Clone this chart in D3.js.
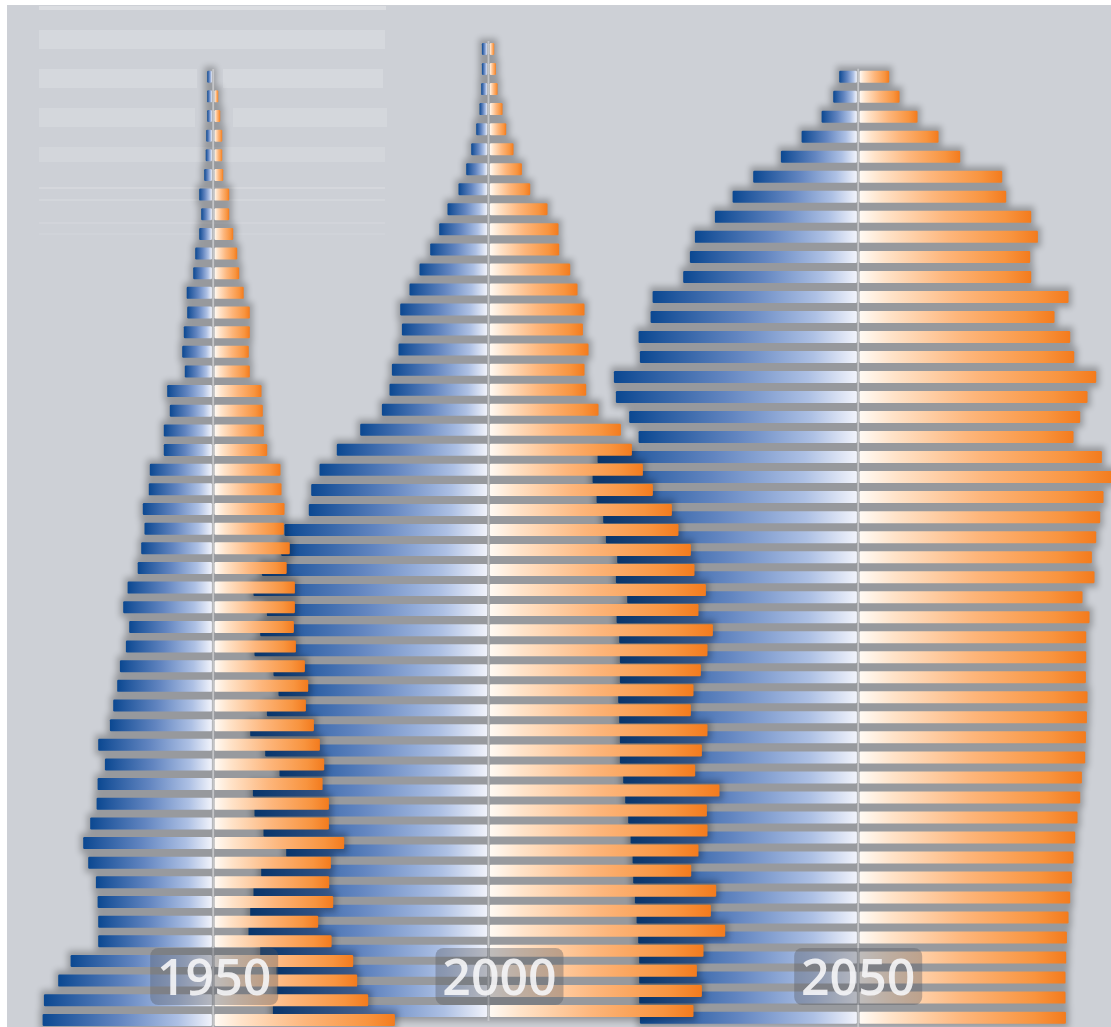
<!DOCTYPE html>
<html><head><meta charset="utf-8">
<script src="https://cdn.jsdelivr.net/npm/d3@7/dist/d3.min.js"></script>
<style>html,body{margin:0;padding:0;background:#fff;}svg{display:block;}</style>
</head><body>
<svg id="chart" width="1111" height="1027"></svg>
<script>
// ---------- DATA (rows listed from oldest (top) to youngest (bottom)) ----------
const years = ["1950", "2000", "2050"];

const male1950 = [6,6,6,7,7.5,9,14,12,14,18,20,26.5,26,29.4,31,28.4,46,43.4,49.4,49.4,63.4,64.4,70.4,68.7,72,75.5,85.6,90,84,87.3,93.3,96,100,103.3,115,108.3,115.6,116.6,123,130,125,117.3,115.6,115,115,142.6,155,169.3,170.6];
const female1950 = [0,5,7,9,9,10,16,16,20,24,26,30.5,36.6,36.6,35.6,36.6,48.3,49.6,50.6,54,67.3,68.3,71.3,70.6,76.6,73.5,81.7,81.7,80.7,82.7,91.7,95,92.7,100.7,106.7,111,109.4,115.7,115.7,131,117.7,116,120,105,118.4,140,144,155,181.7];

const male2000 = [6.6,6.6,7.3,9,12.3,17.3,22.3,30,41,49.3,58.3,69,79,88.3,86.6,90,96.6,99,106.6,128.3,151.7,169,177.3,179.7,204,207.3,226.6,235,221.6,228.3,234,215,210,221.6,238.3,223.3,209,235.6,234,225,202.3,227.3,235,238.3,240,228.3,212,211.6,215.6];
const female2000 = [5.7,7.4,9,14,17.7,25,33.4,41.7,59,70,70.7,81.7,89,96,94.4,100,96,97.7,110,132.4,143.4,154.4,164.4,183.4,190,202.4,206,217.4,210,224.4,219,212.4,205,202.4,219,213.4,206.7,231,218.4,219,210,202.7,227.7,222.4,236.7,215,208.4,213.4,205];

const male2050 = [19,25,36.6,56.6,77.3,105,125.6,143.3,163.3,168.3,175,205.6,207.6,219.6,218.3,244.3,242.3,229,219.6,260.6,265.6,261.6,255,252.3,241,242.3,231,241.6,239,238.3,238.3,240,239,238.3,238.3,235,233,230,227.6,225.6,225,223.3,221.6,220,219,219,219,218.3];
const female2050 = [31,41.3,59.3,80.3,102,144,148,173,179.7,172,173,210.3,196.3,212,216,238,229.3,222,215.3,243.7,256,245.3,242,238,233.7,236.3,224.3,231.3,228,228,227.7,229.3,228.7,227.7,227,223.7,222,219.3,217,215.3,213.7,212,210.3,208.7,208,207.3,207.3,207.7];

const seriesByYear = {
  "1950": {male: male1950, female: female1950},
  "2000": {male: male2000, female: female2000},
  "2050": {male: male2050, female: female2050}
};

// ---------- LAYOUT ----------
const W = 1111, H = 1027;
const layout = {
  "1950": {cx: 213.2, y0: 76.7, pitch: 19.65, labelDx: 1},
  "2000": {cx: 488.5, y0: 49.0, pitch: 20.04, labelDx: 11},
  "2050": {cx: 858.2, y0: 76.7, pitch: 20.02, labelDx: 0}
};
const BAR_H = 12, GAP = 1.3;
const x = d3.scaleLinear().domain([0, 300]).range([0, 300]);

const svg = d3.select("#chart");
const defs = svg.append("defs");

const gm = defs.append("linearGradient").attr("id", "gMale")
  .attr("x1", 0).attr("x2", 1).attr("y1", 0).attr("y2", 0);
[[0, "#0b4891"], [0.12, "#24599f"], [0.45, "#6285c0"], [0.8, "#adc0e4"], [1, "#f1f3fb"]]
  .forEach(([o, c]) => gm.append("stop").attr("offset", o).attr("stop-color", c));
const gf = defs.append("linearGradient").attr("id", "gFemale")
  .attr("x1", 0).attr("x2", 1).attr("y1", 0).attr("y2", 0);
[[0, "#fffaf4"], [0.15, "#ffe3c9"], [0.5, "#fdb67c"], [0.85, "#f8943f"], [1, "#f37b1d"]]
  .forEach(([o, c]) => gf.append("stop").attr("offset", o).attr("stop-color", c));

const blur = defs.append("filter").attr("id", "shadowBlur")
  .attr("x", "-20%").attr("y", "-5%").attr("width", "140%").attr("height", "110%");
blur.append("feGaussianBlur").attr("stdDeviation", 3);

// background
svg.append("rect").attr("width", W).attr("height", H).attr("fill", "#ffffff");
svg.append("rect").attr("x", 7).attr("y", 5).attr("width", W - 7).attr("height", H - 5).attr("fill", "#cdd0d6");

// faint table remnants top-left
const faint = svg.append("g").attr("fill", "#ffffff");
[[39, 6, 347, 4, 0.28], [39, 30, 346, 19, 0.17], [39, 69, 158, 19, 0.17], [223, 69, 160, 19, 0.17],
 [39, 108, 156, 19, 0.15], [233, 108, 154, 19, 0.15], [39, 147, 346, 15, 0.13],
 [39, 187, 346, 2, 0.16], [39, 199, 346, 2, 0.13], [39, 222, 346, 2, 0.1], [39, 233, 346, 2, 0.08]]
  .forEach(([a, b, w, h, o]) => faint.append("rect").attr("x", a).attr("y", b).attr("width", w).attr("height", h).attr("opacity", o));

function drawPyramid(year) {
  const L = layout[year];
  const s = seriesByYear[year];
  const rows = s.male.map((m, i) => ({i, m, f: s.female[i]}));
  const y = d3.scaleLinear().domain([0, 1]).range([L.y0, L.y0 + L.pitch]);
  const g = svg.append("g").attr("class", "pyr-" + year);

  // translucent blurred shadow backing
  g.append("g").attr("filter", "url(#shadowBlur)").attr("opacity", 0.26)
    .selectAll("rect").data(rows).join("rect")
    .attr("x", d => L.cx - x(d.m) - 3)
    .attr("width", d => x(d.m) + x(d.f) + 6)
    .attr("y", d => y(d.i) - L.pitch / 2 - 0.3)
    .attr("height", L.pitch + 0.6)
    .attr("fill", "#000");

  // center divider
  g.append("line")
    .attr("x1", L.cx).attr("x2", L.cx)
    .attr("y1", y(0) - L.pitch / 2 + 2).attr("y2", y(rows.length - 1) + L.pitch / 2)
    .attr("stroke", "#c9cacd").attr("stroke-width", 1.8).attr("opacity", 0.9);

  g.append("g").selectAll("rect").data(rows).join("rect")
    .attr("x", d => L.cx - x(d.m))
    .attr("width", d => Math.max(0, x(d.m) - GAP))
    .attr("y", d => y(d.i) - BAR_H / 2)
    .attr("height", BAR_H).attr("rx", 1.2)
    .attr("fill", "url(#gMale)");

  g.append("g").selectAll("rect").data(rows.filter(d => d.f > GAP)).join("rect")
    .attr("x", L.cx + GAP)
    .attr("width", d => Math.max(0, x(d.f) - GAP))
    .attr("y", d => y(d.i) - BAR_H / 2)
    .attr("height", BAR_H).attr("rx", 1.2)
    .attr("fill", "url(#gFemale)");
}

["2050", "2000", "1950"].forEach(drawPyramid);

// year labels
years.forEach(yr => {
  const L = layout[yr];
  const lx = L.cx + L.labelDx;
  const lg = svg.append("g");
  lg.append("rect").attr("x", lx - 64).attr("y", 948).attr("width", 128).attr("height", 57)
    .attr("rx", 8).attr("fill", "#55575f").attr("opacity", 0.38);
  lg.append("text").attr("x", lx).attr("y", 995)
    .attr("text-anchor", "middle")
    .attr("font-family", "'Open Sans', 'Noto Sans', sans-serif")
    .attr("font-weight", 600).attr("font-size", 50)
    .attr("fill", "#f6f6f8").attr("opacity", 0.9)
    .text(yr);
});
</script>
</body></html>
